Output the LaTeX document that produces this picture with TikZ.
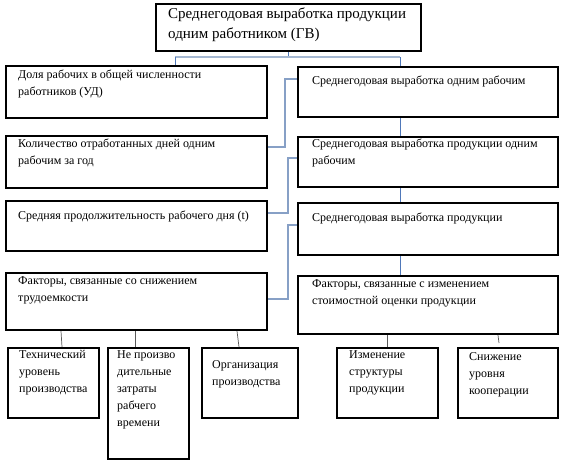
\documentclass[tikz,border=0pt]{standalone}
\usepackage{fontspec}
\setmainfont{Liberation Serif}
\newcommand\fbx{\fontsize{12}{17}\selectfont}
\newcommand\ftop{\fontsize{15}{20}\selectfont}
\definecolor{hubc}{RGB}{165,184,210}
\definecolor{thinb}{RGB}{79,120,185}
\definecolor{linkc}{RGB}{135,160,198}
\definecolor{botc}{RGB}{90,90,90}
\tikzset{
  box/.style={draw=black, line width=2pt, inner sep=0pt, anchor=north west},
  txt/.style={anchor=north west, inner sep=0pt, align=left, font=\fbx,
    yshift=11.9pt, execute at begin node=\strut},
  toptxt/.style={anchor=north west, inner sep=0pt, align=left, font=\ftop,
    yshift=14pt, execute at begin node=\strut},
  hub/.style={draw=hubc, line width=2pt},
  thinline/.style={draw=thinb, line width=0.8pt},
  link/.style={draw=linkc, line width=1.5pt},
  botline/.style={draw=botc, line width=0.7pt}
}
\begin{document}
\begin{tikzpicture}[x=1pt,y=-1pt]
\useasboundingbox (0,0) rectangle (576,467);
% boxes
\node[box, minimum width=265pt, minimum height=47pt] (top) at (155,3) {};
\node[box, minimum width=261pt, minimum height=52pt] (l1) at (5,65) {};
\node[box, minimum width=261pt, minimum height=52pt] (l2) at (5,135) {};
\node[box, minimum width=261pt, minimum height=50pt] (l3) at (5,200) {};
\node[box, minimum width=261pt, minimum height=57pt] (l4) at (5,272) {};
\node[box, minimum width=260pt, minimum height=50pt] (r1) at (297,66) {};
\node[box, minimum width=260pt, minimum height=50pt] (r2) at (297,136) {};
\node[box, minimum width=260pt, minimum height=52pt] (r3) at (297,202) {};
\node[box, minimum width=260pt, minimum height=58pt] (r4) at (297,275) {};
\node[box, minimum width=91pt, minimum height=70pt] (b1) at (7,347) {};
\node[box, minimum width=81pt, minimum height=111pt] (b2) at (107,347) {};
\node[box, minimum width=96pt, minimum height=70pt] (b3) at (201,347) {};
\node[box, minimum width=101pt, minimum height=70pt] (b4) at (336,347) {};
\node[box, minimum width=100pt, minimum height=70pt] (b5) at (457,347) {};
% texts
\node[toptxt] (topt) at (168,22) {Среднегодовая выработка продукции\\одним работником (ГВ)};
\node[txt] (l1t) at (18,82) {Доля рабочих в общей численности\\работников (УД)};
\node[txt] (l2t) at (18,151) {Количество отработанных дней одним\\рабочим за год};
\node[txt] (l3t) at (18,219) {Средняя продолжительность рабочего дня (t)};
\node[txt] (l4t) at (18,288) {Факторы, связанные со снижением\\трудоемкости};
\node[txt] (r1t) at (312,84) {Среднегодовая выработка одним рабочим};
\node[txt] (r2t) at (312,151) {Среднегодовая выработка продукции одним\\рабочим};
\node[txt] (r3t) at (312,221) {Среднегодовая выработка продукции};
\node[txt] (r4t) at (312,291) {Факторы, связанные с изменением\\стоимостной оценки продукции};
\node[txt] (b1t) at (19,362) {Технический\\уровень\\производства};
\node[txt] (b2t) at (117,362) {Не произво\\дительные\\затраты\\рабчего\\времени};
\node[txt] (b3t) at (212,372) {Организация\\производства};
\node[txt] (b4t) at (349,362) {Изменение\\структуры\\продукции};
\node[txt] (b5t) at (469,364) {Снижение\\уровня\\кооперации};
% top hub
\coordinate (hubL) at (175,57);
\coordinate (hubR) at (400,57);
\draw[thinline] (top.south) -- (top.south |- hubL);
\draw[hub] (hubL) -- (hubR);
\draw[thinline] (hubL) -- (hubL |- l1.north);
\draw[thinline] (hubR) -- (hubR |- r1.north);
% left-right links
\draw[link] ([yshift=-12pt]l2.north east) -- ++(17,0) |- ([yshift=-13pt]r1.north west);
\draw[link] ([yshift=-13pt]l3.north east) -- ++(20,0) |- ([yshift=-22pt]r2.north west);
\draw[link] ([yshift=-27pt]l4.north east) -- ++(20,0) |- ([yshift=-23pt]r3.north west);
% right column verticals
\draw[thinline] ([xshift=103pt]r1.south west) -- ([xshift=103pt]r2.north west);
\draw[thinline] ([xshift=103pt]r2.south west) -- ([xshift=103pt]r3.north west);
\draw[thinline] ([xshift=103pt]r3.south west) -- ([xshift=103pt]r4.north west);
% bottom links
\draw[botline] ([xshift=56pt]l4.south west) -- ([xshift=55pt]b1.north west);
\draw[botline] ([xshift=130pt]l4.south west) -- ([xshift=28pt]b2.north west);
\draw[botline] ([xshift=232pt]l4.south west) -- ([xshift=38pt]b3.north west);
\draw[botline] ([xshift=90pt]r4.south west) -- ([xshift=51pt]b4.north west);
\coordinate (b5end) at (499,343);
\draw[botline] ([xshift=201pt]r4.south west) -- (b5end);
\end{tikzpicture}
\end{document}
